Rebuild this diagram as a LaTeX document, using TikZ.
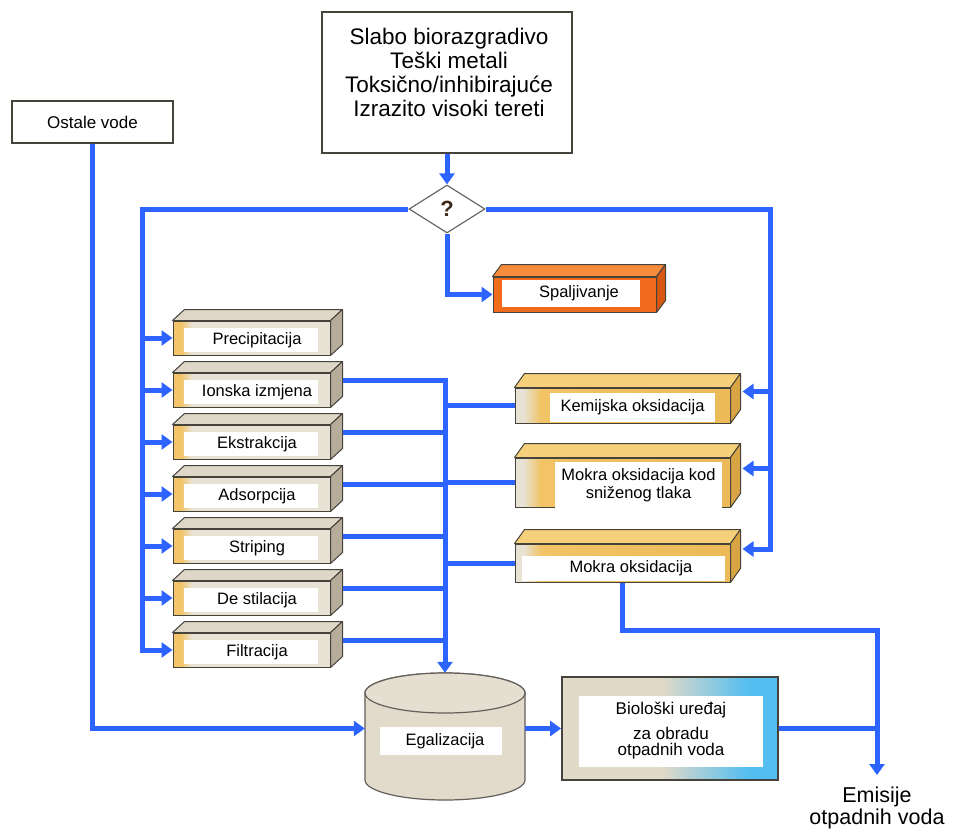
\documentclass[tikz,border=0pt]{standalone}
\usepackage{fontspec}
\setmainfont{Liberation Sans}
\usetikzlibrary{arrows.meta,calc,shapes.geometric}

\definecolor{flowblue}{RGB}{45,100,255}
\definecolor{boxedge}{RGB}{70,66,60}
\definecolor{lbor}{RGB}{243,196,104}
\definecolor{lbbeige}{RGB}{232,226,212}
\definecolor{lbtop}{RGB}{222,215,200}
\definecolor{lbside}{RGB}{182,172,154}
\definecolor{rbfront}{RGB}{242,196,102}
\definecolor{rbfrontdk}{RGB}{236,186,88}
\definecolor{rbtop}{RGB}{246,208,122}
\definecolor{rbside}{RGB}{216,164,68}
\definecolor{spfront}{RGB}{240,108,28}
\definecolor{sptop}{RGB}{246,140,60}
\definecolor{spside}{RGB}{214,88,18}
\definecolor{biobeige}{RGB}{226,218,200}
\definecolor{bioblue}{RGB}{84,190,240}
\definecolor{cylfill}{RGB}{226,219,204}
\definecolor{qmark}{RGB}{62,42,24}

% front-face shadings (25bp..75bp spans the face)
\pgfdeclarehorizontalshading{lfrontshade}{100bp}{color(0bp)=(lbor); color(25bp)=(lbor); color(27.5bp)=(lbor); color(31bp)=(lbbeige); color(100bp)=(lbbeige)}
\pgfdeclarehorizontalshading{rfrontshade}{100bp}{color(0bp)=(lbbeige); color(25bp)=(lbbeige); color(27bp)=(lbbeige); color(31bp)=(rbfront); color(75bp)=(rbfrontdk); color(100bp)=(rbfrontdk)}
\pgfdeclarehorizontalshading{bioshade}{100bp}{color(0bp)=(biobeige); color(25bp)=(biobeige); color(48bp)=(biobeige); color(68bp)=(bioblue); color(100bp)=(bioblue)}

% top and side faces of a 3D slab whose front face is node #1
\newcommand\slabfaces[5]{%
  \filldraw[draw=boxedge,line width=1pt,fill=#4,line join=round]
    (#1.north west) -- ++(#2,#3) -- ($(#1.north east)+(#2,#3)$) -- (#1.north east) -- cycle;
  \filldraw[draw=boxedge,line width=1pt,fill=#5,line join=round]
    (#1.north east) -- ($(#1.north east)+(#2,#3)$) -- ($(#1.south east)+(#2,#3)$) -- (#1.south east) -- cycle;
}

\begin{document}
\begin{tikzpicture}[x=1pt,y=-1pt,
  flowline/.style={draw=flowblue,line width=5pt},
  flow/.style={flowline,-{Triangle[width=15pt,length=11pt]}},
  plainbox/.style={draw=boxedge,line width=1.8pt,fill=white,inner sep=0pt},
  lfront/.style={draw=boxedge,line width=1pt,shading=lfrontshade,minimum width=157pt,minimum height=34pt,inner sep=0pt},
  rfront/.style={draw=boxedge,line width=1pt,shading=rfrontshade,minimum width=215pt,inner sep=0pt},
  lbl/.style={fill=white,inner sep=0pt,font=\fontsize{16.5}{18}\selectfont,align=center},
]
\path[use as bounding box,fill=white] (0,0) rectangle (955,832);

% ---------- sources ----------
\node[plainbox,minimum width=250pt,minimum height=141pt] (src) at (447,82.5) {};
\node[anchor=north,inner sep=0pt,align=center,font=\fontsize{22.5}{24}\selectfont] (srct) at (449,28)
  {Slabo biorazgradivo\\Teški metali\hspace*{0.9em}\\Toksično/inhibirajuće\\Izrazito visoki tereti};
\node[plainbox,minimum width=161pt,minimum height=42pt,font=\fontsize{17}{19}\selectfont] (ostale) at (92.5,122) {Ostale vode};

% ---------- decision ----------
\node[diamond,draw=boxedge!80,line width=1.2pt,fill=white,minimum width=76pt,minimum height=48pt,inner sep=0pt,aspect=1.6,
      font=\fontsize{22}{24}\selectfont\bfseries,text=qmark] (dia) at (447,209) {?};

% ---------- incineration ----------
\node[draw=boxedge,line width=1pt,fill=spfront,minimum width=163pt,minimum height=35pt,inner sep=0pt] (spal) at (574.5,294.5) {};
\slabfaces{spal}{9}{-12}{sptop}{spside}
\node[lbl,minimum width=138pt,minimum height=27pt] (spal-l) at (571,293.5) {\hspace*{16pt}Spaljivanje};

% ---------- physical/chemical treatment (left column) ----------
\foreach \n/\t/\y in {prec/Precipitacija/338, ion/Ionska izmjena/390, ekst/Ekstrakcija/442,
                      ads/Adsorpcija/494, strip/Striping/546, dest/De stilacija/598, filt/Filtracija/650}{
  \node[lfront] (\n) at (251.5,\y) {};
  \slabfaces{\n}{12}{-11}{lbtop}{lbside}
  \node[lbl,minimum width=134pt,minimum height=24pt] (\n-l) at (251,\y+2) {\hspace*{12pt}\t};
  \coordinate (\n-o) at ($(\n.east)+(12,-10)$);
}

% ---------- oxidation (right column) ----------
\node[rfront,minimum height=35pt] (kem) at (622.5,405.5) {};
\slabfaces{kem}{10}{-14}{rbtop}{rbside}
\node[lbl,minimum width=165pt,minimum height=29pt] (kem-l) at (632.5,407.5) {Kemijska oksidacija};

\node[rfront,minimum height=49pt] (mok) at (622.5,482.5) {};
\slabfaces{mok}{10}{-14}{rbtop}{rbside}
\node[lbl,minimum width=167pt,minimum height=46pt] (mok-l) at (638.5,485) {Mokra oksidacija kod\\sniženog tlaka};

\node[rfront,minimum height=38pt] (mo) at (622.5,563) {};
\slabfaces{mo}{10}{-14}{rbtop}{rbside}
\node[lbl,minimum width=203pt,minimum height=25pt] (mo-l) at (623.5,568) {\hspace*{15pt}Mokra oksidacija};

\foreach \n in {kem,mok,mo}{
  \coordinate (\n-in) at ($(\n.east)+(12,-14)$);
}

% ---------- equalisation tank ----------
\node[minimum width=160pt,minimum height=127pt,inner sep=0pt] (egal) at (445,736.5) {};
\filldraw[draw=boxedge!85,line width=1.2pt,fill=cylfill]
  (365,693) -- (365,780) arc[start angle=180,end angle=360,x radius=80pt,y radius=20pt] -- (525,693)
  arc[start angle=0,end angle=180,x radius=80pt,y radius=20pt] -- cycle;
\draw[draw=boxedge!85,line width=1.2pt,fill=cylfill!90!white] (445,693) ellipse[x radius=80pt,y radius=20pt];
\node[lbl,minimum width=122pt,minimum height=28pt] (egal-l) at (441,741) {\hspace*{8pt}Egalizacija};

% ---------- biological plant ----------
\node[draw=boxedge,line width=1.8pt,shading=bioshade,minimum width=216pt,minimum height=103pt,inner sep=0pt] (bio) at (670,728.5) {};
\node[fill=white,inner sep=0pt,minimum width=184pt,minimum height=71pt] (bio-l) at (671,731.5) {};
\node[anchor=north,inner sep=0pt,align=center,font=\fontsize{17}{16}\selectfont] (bio-t) at (671,702)
  {Biološki uređaj\\[9pt]za obradu\\otpadnih voda};

% ---------- outlet ----------
\node[anchor=north,inner xsep=0pt,inner ysep=12pt,align=center,font=\fontsize{21.5}{22}\selectfont] (emis) at (877,775)
  {Emisije\\otpadnih voda};

% ---------- flows ----------
\coordinate (lsplit) at (142,209);
\coordinate (rsplit) at (770,209);

\draw[flow] (src.south) -- (dia.north);
\draw[flow] (dia.south) |- (spal.west);

\draw[flow] (dia.west) -- (lsplit) |- (filt.west);
\foreach \n in {prec,ion,ekst,ads,strip,dest}
  \draw[flow] (lsplit |- \n.west) -- (\n.west);

\draw[flow] (dia.east) -- (rsplit) |- (mo-in);
\foreach \n in {kem,mok}
  \draw[flow] (rsplit |- \n-in) -- (\n-in);

\draw[flow] (ion-o) -| (egal.north);
\foreach \n in {ekst,ads,strip,dest,filt}
  \draw[flowline] (\n-o) -- (\n-o -| egal.north);
\foreach \n in {kem,mok,mo}
  \draw[flowline] (\n.west) -- (\n.west -| egal.north);

\draw[flow] (ostale.south) |- (egal.west |- bio.west);
\draw[flow] (egal.east |- bio.west) -- (bio.west);

\draw[flow] (mo.south) -- ++(0,48) -| (emis.north);
\draw[flowline] (bio.east) -- (bio.east -| emis.north);
\end{tikzpicture}
\end{document}
